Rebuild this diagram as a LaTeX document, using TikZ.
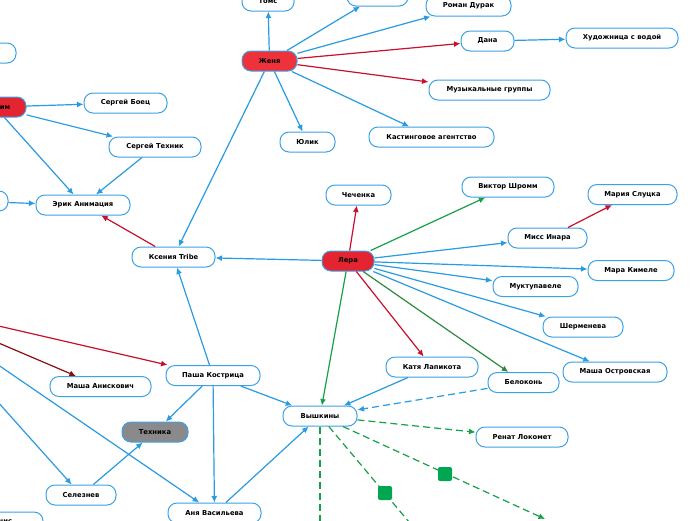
\documentclass[tikz,border=0pt]{standalone}
\usepackage{fontspec}
\setmainfont{DejaVu Sans}
\usetikzlibrary{arrows.meta}
\definecolor{nodeblue}{RGB}{60,162,230}
\definecolor{lblue}{RGB}{41,155,226}
\definecolor{lred}{RGB}{200,16,46}
\definecolor{ldred}{RGB}{139,13,13}
\definecolor{lgreen}{RGB}{22,160,72}
\definecolor{lgreenb}{RGB}{46,138,62}
\definecolor{sqgreen}{RGB}{0,166,80}
\definecolor{nred}{RGB}{238,50,60}
\definecolor{nredb}{RGB}{228,36,48}
\definecolor{ngray}{RGB}{138,138,140}
\begin{document}
\begin{tikzpicture}[x=1pt,y=-1pt,
  mm/.style={draw=nodeblue, line width=1pt, fill=white, rounded corners=9pt,
    minimum height=20pt, inner sep=0pt, text=black,
    font=\fontsize{6.8}{8}\selectfont\bfseries},
  redn/.style={mm, fill=nred},
  redb/.style={mm, fill=nredb},
  grayn/.style={mm, fill=ngray},
  sq/.style={fill=sqgreen, draw=none, minimum size=14pt, inner sep=0pt, rounded corners=2pt},
  bl/.style={line width=1.2pt, draw=lblue, -{Latex[length=6.5pt,width=6pt]}},
  rd/.style={bl, draw=lred},
  drd/.style={bl, draw=ldred},
  gr/.style={bl, draw=lgreen},
  grb/.style={bl, draw=lgreenb},
  bdash/.style={bl, dash pattern=on 7pt off 4pt},
  gdash/.style={bl, draw=lgreen, dash pattern=on 7pt off 4pt},
  gdashn/.style={line width=1.2pt, draw=lgreen, dash pattern=on 7pt off 4pt}]
\useasboundingbox (0,0) rectangle (696,520);
\clip (0,0) rectangle (696,520);
\fill[white] (0,0) rectangle (696,520);

% nodes
\node[mm, minimum width=112pt] (topleft) at (-40,53) {};
\node[redb, minimum width=62pt] (maxim) at (-5,107) {Максим};
\node[mm, minimum width=83pt] (boec) at (125.5,103) {Сергей Боец};
\node[mm, minimum width=92pt] (tehnik) at (155,147) {Сергей Техник};
\node[mm, minimum width=94pt] (erik) at (83,205) {Эрик Анимация};
\node[mm, minimum width=96pt] (leftmid) at (-40,201) {};
\node[mm, minimum width=83pt] (ksenia) at (173.5,257) {Ксения Tribe};
\node[mm, minimum width=52pt] (toms) at (268,1) {Томс};
\node[mm, minimum width=61pt] (serzh) at (377.5,-4) {Серж};
\node[mm, minimum width=85pt] (roman) at (468.5,6) {Роман Дурак};
\node[mm, minimum width=53pt] (dana) at (487.5,41) {Дана};
\node[mm, minimum width=112pt] (hud) at (622,38) {Художница с водой};
\node[mm, minimum width=121pt] (muz) at (489.5,90) {Музыкальные группы};
\node[mm, minimum width=125pt] (kast) at (431.5,137) {Кастинговое агентство};
\node[redn, minimum width=55pt] (zhenya) at (269.5,61) {Женя};
\node[mm, minimum width=55pt] (yulik) at (307.5,142) {Юлик};
\node[mm, minimum width=65pt] (chech) at (358.5,195) {Чеченка};
\node[mm, minimum width=92pt] (viktor) at (508,187) {Виктор Шромм};
\node[mm, minimum width=89pt] (mariya) at (632.5,194.5) {Мария Слуцка};
\node[mm, minimum width=79pt] (miss) at (547.5,238) {Мисс Инара};
\node[redb, minimum width=52pt] (lera) at (348,261) {Лера};
\node[mm, minimum width=86pt] (mara) at (631,270.5) {Мара Кимеле};
\node[mm, minimum width=85pt] (mukt) at (535.5,286.5) {Муктупавеле};
\node[mm, minimum width=80pt] (sherm) at (583,327) {Шерменева};
\node[mm, minimum width=104pt] (ostr) at (615,372) {Маша Островская};
\node[mm, minimum width=71pt] (belok) at (523.5,382.5) {Белоконь};
\node[mm, minimum width=92pt] (renat) at (522,437) {Ренат Локомет};
\node[mm, minimum width=92pt] (katya) at (432,367) {Катя Лапикота};
\node[mm, minimum width=74pt] (vysh) at (320,416) {Вышкины};
\node[mm, minimum width=101pt] (anisk) at (100.5,386.5) {Маша Анискович};
\node[mm, minimum width=94pt] (pasha) at (213,375.5) {Паша Кострица};
\node[grayn, minimum width=66pt] (tehnika) at (155,432) {Техника};
\node[mm, minimum width=70pt] (selez) at (81,495) {Селезнев};
\node[mm, minimum width=93pt] (anya) at (214.5,513) {Аня Васильева};
\node[mm, minimum width=86pt] (botleft) at (0,522) {Денис};

\coordinate (offL) at (-88,306);
\coordinate (g1) at (545,519);
\coordinate (g2) at (430,547);
\coordinate (g3) at (320,545);

% edges
\draw[bl] (zhenya) -- (toms);
\draw[bl] (zhenya) -- (serzh);
\draw[bl] (zhenya) -- (roman);
\draw[rd] (zhenya) -- (dana);
\draw[bl] (dana) -- (hud);
\draw[rd] (zhenya) -- (muz);
\draw[bl] (zhenya) -- (kast);
\draw[bl] (zhenya) -- (yulik);
\draw[bl] (zhenya) -- (ksenia);
\draw[bl] (maxim) -- (boec);
\draw[bl] (maxim) -- (tehnik);
\draw[bl] (maxim) -- (erik);
\draw[bl] (tehnik) -- (erik);
\draw[bl] (leftmid) -- (erik);
\draw[rd] (ksenia) -- (erik);
\draw[bl] (lera) -- (ksenia);
\draw[rd] (lera) -- (chech);
\draw[gr] (lera) -- (viktor);
\draw[bl] (lera) -- (miss);
\draw[rd] (miss) -- (mariya);
\draw[bl] (lera) -- (mara);
\draw[bl] (lera) -- (mukt);
\draw[bl] (lera) -- (sherm);
\draw[bl] (lera) -- (ostr);
\draw[grb] (lera) -- (belok);
\draw[rd] (lera) -- (katya);
\draw[gr] (lera) -- (vysh);
\draw[bl] (katya) -- (vysh);
\draw[bdash] (belok) -- (vysh);
\draw[gdash] (vysh) -- (renat);
\draw[gdash] (vysh) -- (g1);
\draw[gdashn] (vysh) -- (g2);
\draw[gdashn] (vysh) -- (g3);
\draw[bl] (pasha) -- (vysh);
\draw[bl] (anya) -- (vysh);
\draw[bl] (pasha) -- (ksenia);
\draw[bl] (pasha) -- (tehnika);
\draw[bl] (pasha) -- (anya);
\draw[bl] (selez) -- (tehnika);
\draw[rd] (offL) -- (pasha);
\draw[drd] (offL) -- (anisk);
\draw[bl] (offL) -- (anya);
\draw[bl] (offL) -- (selez);

\node[sq] (s1) at (445,474) {};
\node[sq] (s2) at (385,493) {};
\end{tikzpicture}
\end{document}
